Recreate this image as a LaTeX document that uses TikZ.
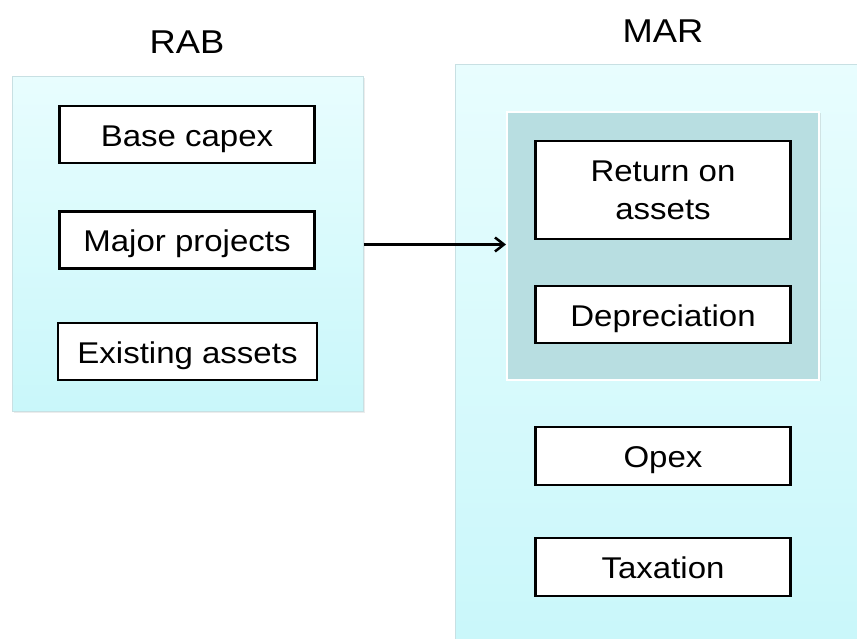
\documentclass[tikz,border=0pt]{standalone}
\usepackage{fontspec}
\setmainfont[FakeStretch=1.1]{Liberation Sans}
\usetikzlibrary{positioning}
\usetikzlibrary{arrows.meta}
\usetikzlibrary{shadows}
\definecolor{paneltop}{RGB}{232,253,254}
\definecolor{panelbot}{RGB}{201,247,250}
\definecolor{paneledge}{RGB}{200,224,227}
\definecolor{core}{RGB}{184,222,225}

\begin{document}
\begin{tikzpicture}[x=1pt, y=1pt,
    panel/.style={draw=paneledge, line width=1pt, top color=paneltop, bottom color=panelbot,
        drop shadow={opacity=0.15, shadow xshift=1.5pt, shadow yshift=-1.5pt}, inner sep=0pt},
    itembox/.style={draw=black, line width=2.5pt, fill=white, minimum width=255pt,
        minimum height=57pt, align=center, inner sep=0pt,
        font=\fontsize{30}{38}\selectfont},
    oneline/.style={itembox, text height=24pt, text depth=0pt},
    title/.style={font=\fontsize{33}{38}\selectfont}]
    \useasboundingbox (0,0) rectangle (857,639);

    % RAB side
    \node[panel, minimum width=351pt, minimum height=335pt] (rab) at (187.5,394.5) {};
    \node[title] (rabtitle) at (187,597) {RAB};
    \node[oneline] (capex) at (187,504.5) {Base capex};
    \node[oneline] (major) at (187,399) {Major projects};
    \node[oneline, minimum width=259pt] (existing) at (187.5,287.5) {Existing assets};

    % MAR side
    \node[panel, minimum width=410pt, minimum height=584pt] (mar) at (660,282) {};
    \node[title] (martitle) at (663,608) {MAR};
    \node[draw=white, line width=2pt, fill=core, minimum width=312pt, minimum height=268pt,
        drop shadow={opacity=0.2, shadow xshift=1.5pt, shadow yshift=-1.5pt}] (core) at (663,393) {};
    \node[itembox, minimum height=98pt] (return) at (663,449) {Return on\\assets};
    \node[oneline] (deprec) at (663,324.5) {Depreciation};
    \node[oneline, minimum height=58pt] (opex) at (663,183) {Opex};
    \node[oneline, minimum height=58pt] (tax) at (663,72) {Taxation};

    \draw[-{Straight Barb[length=9pt, width=14pt]}, line width=2.5pt] (rab.east) -- (rab.east -| core.west);
\end{tikzpicture}
\end{document}
